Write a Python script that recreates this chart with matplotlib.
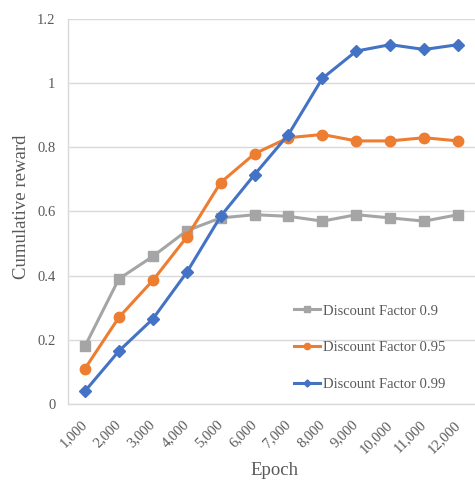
import matplotlib
matplotlib.use("Agg")
import matplotlib.pyplot as plt
from matplotlib.transforms import ScaledTranslation

epochs = ["1,000", "2,000", "3,000", "4,000", "5,000", "6,000", "7,000",
          "8,000", "9,000", "10,000", "11,000", "12,000"]
df_090 = [0.18, 0.39, 0.46, 0.54, 0.58, 0.59, 0.585, 0.57, 0.59, 0.58, 0.57, 0.59]
df_095 = [0.11, 0.27, 0.385, 0.52, 0.69, 0.78, 0.83, 0.84, 0.82, 0.82, 0.83, 0.82]
df_099 = [0.04, 0.165, 0.265, 0.41, 0.585, 0.715, 0.84, 1.015, 1.10, 1.12, 1.105, 1.12]
y_ticks = [0, 0.2, 0.4, 0.6, 0.8, 1, 1.2]
y_tick_labels = ["0", "0.2", "0.4", "0.6", "0.8", "1", "1.2"]

plt.rcParams['font.family'] = ['Liberation Serif', 'DejaVu Serif']
txt = '#595959'

W, H = 475, 484
fig = plt.figure(figsize=(W / 100, H / 100), dpi=100)
L, T, B = 68, 19, 404
ax = fig.add_axes([L / W, 1 - B / H, (W - L) / W, (B - T) / H])

x = list(range(len(epochs)))
ax.plot(x, df_090, color='#A5A5A5', marker='s', markersize=7, linewidth=2.2,
        label='Discount Factor 0.9')
ax.plot(x, df_095, color='#ED7D31', marker='o', markersize=7.5, linewidth=2.2,
        label='Discount Factor 0.95')
ax.plot(x, df_099, color='#4472C4', marker='D', markersize=6, linewidth=2.2,
        label='Discount Factor 0.99')

ax.set_xlim(-0.5, len(epochs) - 0.5)
ax.set_ylim(0, 1.2)
ax.set_yticks(y_ticks)
ax.set_yticklabels(y_tick_labels)
ax.set_xticks(x)
ax.set_xticklabels(epochs, rotation=45, ha='right', va='center',
                   rotation_mode='anchor')
off = ScaledTranslation(-5 / 100, 0, fig.dpi_scale_trans)
for lab in ax.get_xticklabels():
    lab.set_transform(lab.get_transform() + off)

ax.grid(axis='y', color='#D9D9D9', linewidth=1)
ax.set_axisbelow(True)
for s in ['top', 'right']:
    ax.spines[s].set_visible(False)
for s in ['left', 'bottom']:
    ax.spines[s].set_color('#D9D9D9')
    ax.spines[s].set_linewidth(1)
ax.tick_params(axis='both', length=0, labelsize=10.5, colors=txt)
ax.tick_params(axis='y', pad=9)
ax.tick_params(axis='x', pad=13.3)

ax.set_xlabel('Epoch', fontsize=13.5, color=txt)
ax.xaxis.set_label_coords((274 - L) / (W - L), (B - 462) / (B - T))
ax.set_ylabel('Cumulative reward', fontsize=13.5, color=txt)
ax.yaxis.set_label_coords((30 - L) / (W - L), (B - 207) / (B - T))

leg = ax.legend(loc='upper left', bbox_to_anchor=(0.523, 0.293), frameon=False,
                fontsize=10.5, labelcolor=txt, handlelength=1.8, handletextpad=0.2,
                labelspacing=1.6, markerscale=0.6)

fig.savefig('out.png', dpi=100)
